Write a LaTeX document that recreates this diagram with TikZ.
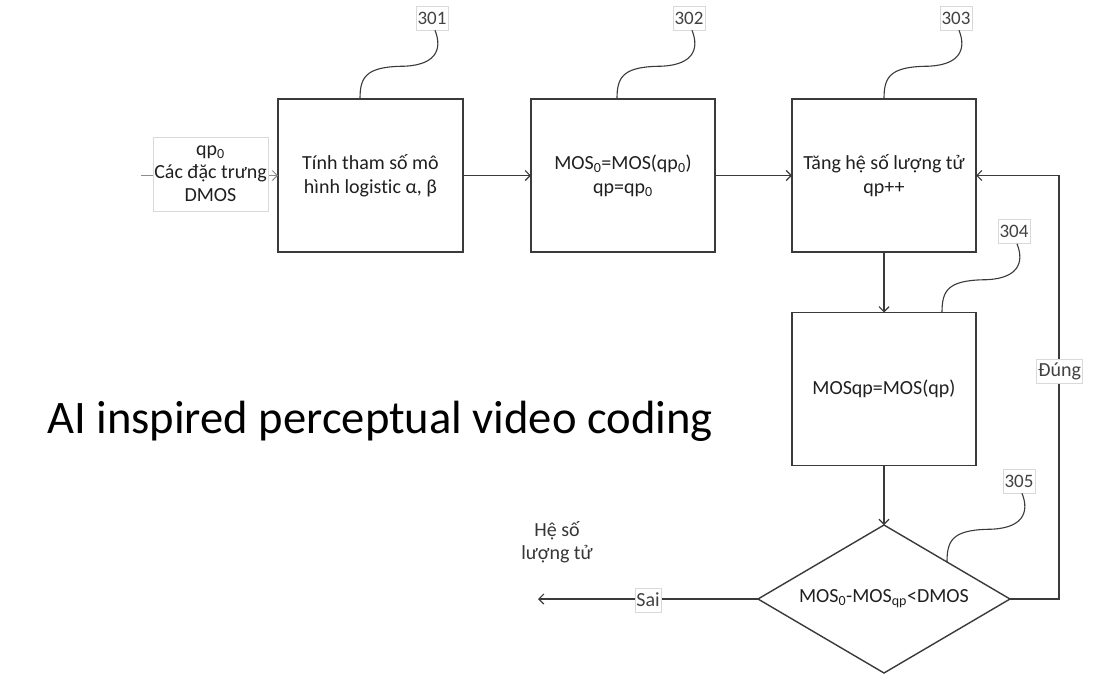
\documentclass[tikz,border=0pt]{standalone}
\usepackage{fontspec}
\setmainfont{Carlito}[Ligatures=NoCommon]
\usetikzlibrary{arrows.meta,shapes.geometric,calc}

\definecolor{ink}{HTML}{202020}
\definecolor{edge}{HTML}{3A3A3A}
\definecolor{pale}{HTML}{D9D9D9}
\definecolor{feed}{HTML}{8C8C8C}

% wavy reference leader from a number tag down to a block
\newcommand\leaderto[2]{%
  \path ($(#1.south)+(3,0)$) coordinate (ls) (#2) coordinate (le);
  \draw[leader] (ls) .. controls ($(ls)+(8,20)$) and ($(ls)+(0,36)$) ..
    ($(ls)+(-35,36)$) .. controls ($(ls)+(-70,37)$) and ($(le)+(0,-21)$) .. (le);}

\begin{document}
\begin{tikzpicture}[x=1pt,y=-1pt,
  font=\fontsize{20}{24}\selectfont, text=ink,
  stepbox/.style={draw=edge, line width=1.4pt, minimum width=184pt,
    minimum height=153pt, align=center, inner sep=0pt, outer sep=0pt},
  tag/.style={draw=pale, line width=0.6pt, fill=white, inner sep=1.5pt,
    minimum height=24pt, font=\fontsize{19}{22}\selectfont, text=ink!85},
  conn/.style={draw=edge, line width=1.2pt},
  arr/.style={conn, -{Straight Barb[length=5pt,width=10pt]}},
  leader/.style={draw=edge, line width=1.1pt},
]
\useasboundingbox (0,0) rectangle (1109,673);
\fill[white] (0,0) rectangle (1109,673);

% process blocks
\node[stepbox, minimum width=185pt] (b301) at (370.5,175.5) {Tính tham số mô\\hình logistic α, β};
\node[stepbox] (b302) at (623,175.5) {MOS\textsubscript{0}=MOS(qp\textsubscript{0})\\qp=qp\textsubscript{0}};
\node[stepbox] (b303) at (884,175.5) {Tăng hệ số lượng tử\\qp++};
\node[stepbox] (b304) at (884,389) {MOSqp=MOS(qp)};
\node[diamond, draw=edge, line width=1.4pt, shape aspect=1.7, minimum width=252pt,
  minimum height=148pt, inner sep=0pt, outer sep=0pt] (d305) at (884,599)
  {MOS\textsubscript{0}-MOS\textsubscript{qp}<DMOS};

% input
\coordinate (in0) at (141,175.5);
\draw[draw=feed, line width=1pt, -{Straight Barb[length=5pt,width=10pt]}] (in0) -- (b301.west);
\node[draw=pale, fill=white, line width=0.6pt, minimum width=115pt, minimum height=74pt,
  inner sep=0pt, align=center, font=\fontsize{20}{23}\selectfont] (inp) at (210.5,174)
  {qp\textsubscript{0}\\Các đặc trưng\\DMOS};

% flow
\draw[arr] (b301.east) -- (b302.west);
\draw[arr] (b302.east) -- (b303.west);
\draw[arr] (b303.south) -- (b304.north);
\draw[arr] (b304.south) -- (d305.north);

% loop back when the condition holds
\coordinate (fbx) at (1059,0);
\draw[arr] (d305.east) -- (d305.east -| fbx) -- (b303.east -| fbx) -- (b303.east);
\node[tag, font=\fontsize{20}{22}\selectfont] (yes) at (1059.5,371) {Đúng};

% exit when it fails
\coordinate (out) at (538,599);
\draw[arr] (d305.west) -- (out);
\node[tag, font=\fontsize{20}{22}\selectfont] (no) at (648,600) {Sai};
\node[align=center, font=\fontsize{20}{23}\selectfont, text=ink!90] (res) at (557,542) {Hệ số\\lượng tử};

% reference numbers
\coordinate (e301) at ($(b301.north)+(-10.5,0)$);
\coordinate (e302) at ($(b302.north)+(-6,0)$);
\coordinate (e303) at (b303.north);
\coordinate (e304) at ($(b304.north)+(58,0)$);
\coordinate (e305) at (d305.north east);
\node[tag] (l301) at ($(e301)+(72,-81)$) {301};
\node[tag] (l302) at ($(e302)+(72,-81)$) {302};
\node[tag] (l303) at ($(e303)+(72,-81)$) {303};
\node[tag] (l304) at ($(e304)+(72,-81)$) {304};
\node[tag] (l305) at ($(e305)+(72,-81)$) {305};
\leaderto{l301}{e301}
\leaderto{l302}{e302}
\leaderto{l303}{e303}
\leaderto{l304}{e304}
\leaderto{l305}{e305}

% caption
\node[anchor=base west, inner sep=0pt, text=black, font=\fontsize{46.6}{50}\selectfont]
  (title) at (47,433) {AI inspired perceptual video coding};
\end{tikzpicture}
\end{document}
